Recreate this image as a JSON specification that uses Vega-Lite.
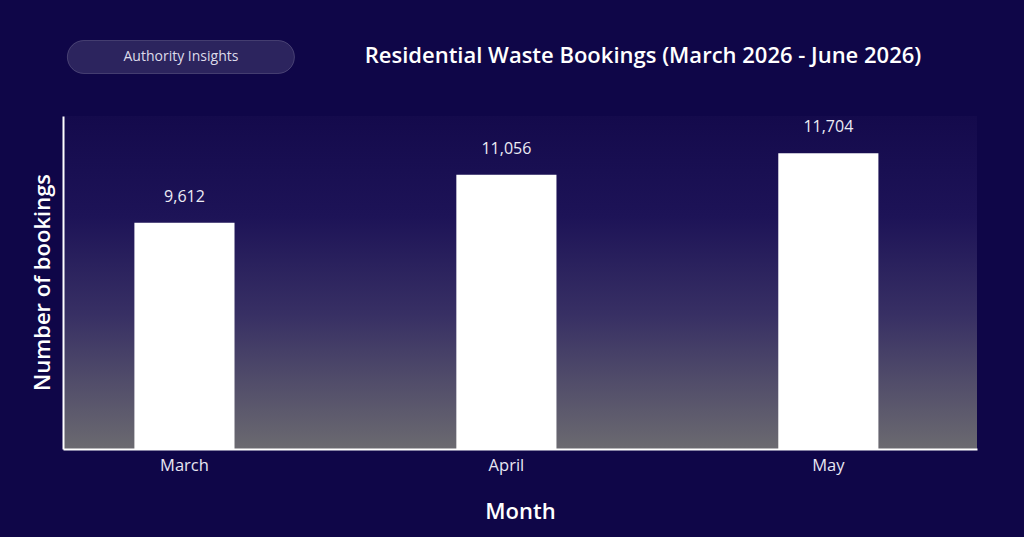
{
  "$schema": "https://vega.github.io/schema/vega-lite/v6.json",
  "width": 914,
  "height": 333,
  "autosize": {"type": "none"},
  "padding": {"left": 63, "top": 116, "right": 47, "bottom": 88},
  "background": "#0f0648",
  "title": {
    "text": "Residential Waste Bookings (March 2026 - June 2026)",
    "anchor": "middle",
    "frame": "group",
    "dx": 123,
    "offset": -40,
    "baseline": "middle",
    "font": "Open Sans",
    "fontSize": 22,
    "fontWeight": 600,
    "color": "#ffffff"
  },
  "config": {
    "font": "Open Sans",
    "view": {
      "stroke": null,
      "fill": {
        "gradient": "linear",
        "x1": 0, "y1": 0, "x2": 0, "y2": 1,
        "stops": [
          {"offset": 0, "color": "#140a4c"},
          {"offset": 0.3, "color": "#1d1357"},
          {"offset": 0.6, "color": "#383064"},
          {"offset": 1, "color": "#6b6a70"}
        ]
      }
    },
    "axis": {
      "grid": false,
      "ticks": false,
      "domainColor": "#ffffff",
      "domainWidth": 2,
      "titleColor": "#ffffff",
      "titleFontSize": 22,
      "titleFontWeight": 600,
      "labelColor": "#e8e6f2",
      "labelFontSize": 16.5
    }
  },
  "data": {
    "values": [
      {"month": "March", "bookings": 9612},
      {"month": "April", "bookings": 11056},
      {"month": "May", "bookings": 11704}
    ]
  },
  "encoding": {
    "x": {
      "field": "month",
      "type": "nominal",
      "sort": null,
      "title": "Month",
      "scale": {"paddingInner": 0.689, "paddingOuter": 0.264, "align": 0.42},
      "axis": {"labelAngle": 0, "labelPadding": 8, "titleY": 62, "titleBaseline": "middle"}
    },
    "y": {
      "field": "bookings",
      "type": "quantitative",
      "title": "Number of bookings",
      "scale": {"domain": [2790, 12830], "nice": false, "zero": false},
      "axis": {
        "labels": false,
        "titleX": -21,
        "titleY": 166,
        "titleAlign": "center",
        "titleBaseline": "middle"
      }
    }
  },
  "layer": [
    {
      "mark": {"type": "bar", "color": "#ffffff"},
      "encoding": {"y2": {"datum": 2790}}
    },
    {
      "mark": {
        "type": "text",
        "baseline": "bottom",
        "dy": -18,
        "fontSize": 16,
        "color": "#ecebf4"
      },
      "encoding": {"text": {"field": "bookings", "type": "quantitative", "format": ","}}
    },
    {
      "data": {"values": [{"badge": "Authority Insights", "month": "March", "bookings": 14609}]},
      "mark": {
        "type": "point",
        "filled": true,
        "clip": false,
        "shape": "M -0.855 -0.1454 L 0.855 -0.1454 A 0.1454 0.1454 0 0 1 0.855 0.1454 L -0.855 0.1454 A 0.1454 0.1454 0 0 1 -0.855 -0.1454 Z",
        "size": 51529,
        "fill": "#ffffff",
        "fillOpacity": 0.12,
        "stroke": "#ffffff",
        "strokeOpacity": 0.18,
        "strokeWidth": 1
      },
      "encoding": {"xOffset": {"value": 46.5}}
    },
    {
      "data": {"values": [{"badge": "Authority Insights", "month": "March", "bookings": 14609}]},
      "mark": {
        "type": "text",
        "clip": false,
        "dx": -3.5,
        "fontSize": 14,
        "color": "#dddbea"
      },
      "encoding": {"text": {"field": "badge"}}
    }
  ]
}
